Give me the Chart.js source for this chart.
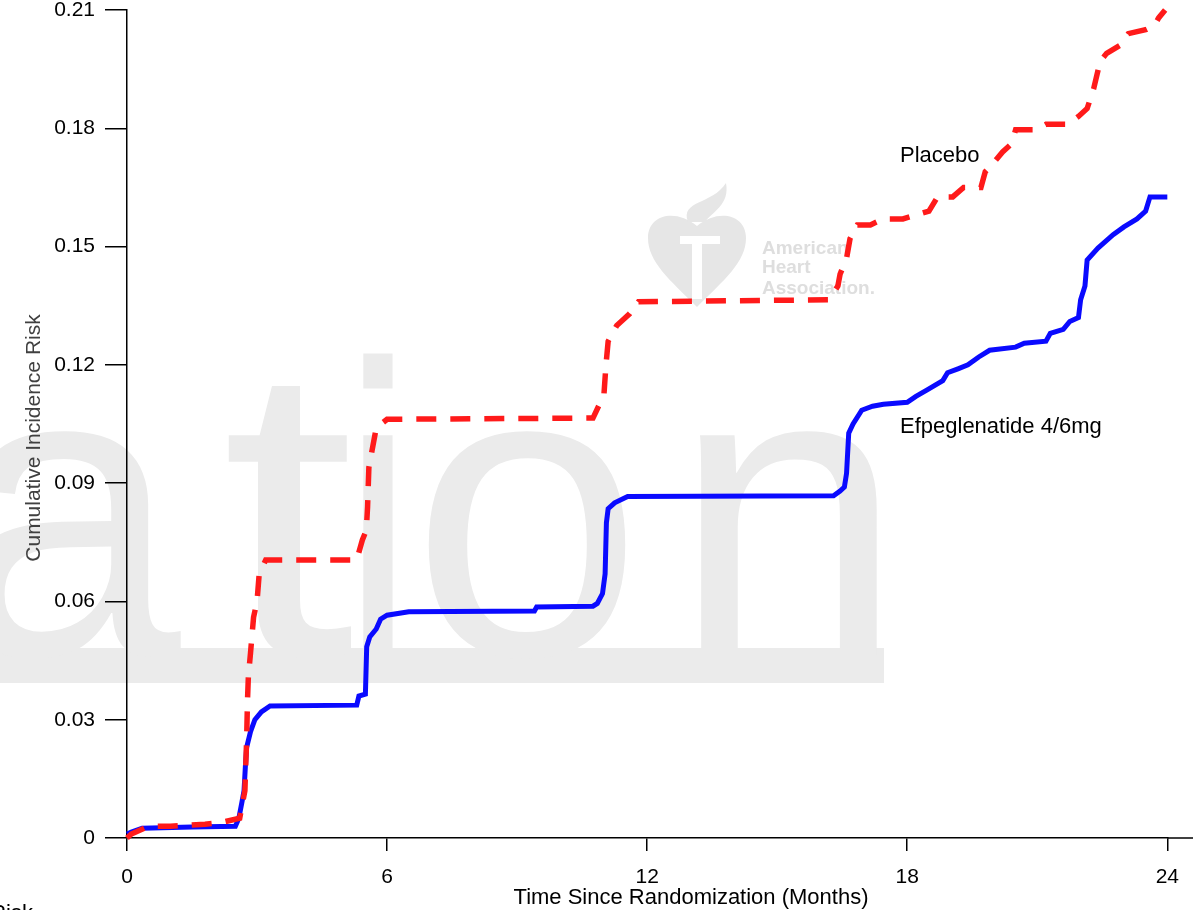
<!DOCTYPE html>
<html>
<head>
<meta charset="utf-8">
<script src="https://cdn.jsdelivr.net/npm/chart.js"></script>
<style>
  html, body { margin: 0; padding: 0; background: #fff; }
  canvas { display: block; }
</style>
</head>
<body>
<canvas id="chartIncidencia" width="1193" height="910"></canvas>
<script>
// curve values (months, cumulative risk)
const monthsPlacebo = [0, 0.1, 0.5, 1.0, 1.8, 2.2, 2.6, 2.65, 2.72, 2.76, 2.78, 2.8, 2.85, 2.92, 3.0, 3.05, 3.2,
  5.3, 5.43, 5.52, 5.55, 5.58, 5.75, 6.0, 10.75, 10.9, 11.0, 11.05, 11.1, 11.2, 11.3, 11.4, 11.6, 11.8,
  16.2, 16.4, 16.45, 16.6, 16.68, 16.85, 17.15, 17.45, 17.9, 18.2, 18.5, 18.7, 19.05, 19.3, 19.7, 19.8, 19.97, 20.2, 20.4, 20.5, 20.98,
  21.2, 21.7, 21.95, 22.15, 22.3, 22.45, 22.6, 22.9, 23.1, 23.5, 23.7, 23.8, 23.95];
const riskPlacebo = [0, 0.001, 0.003, 0.003, 0.0035, 0.004, 0.005, 0.008, 0.012, 0.025, 0.035, 0.041, 0.047, 0.056, 0.06, 0.067, 0.0705,
  0.0705, 0.0756, 0.078, 0.084, 0.094, 0.104, 0.1062, 0.1065, 0.110, 0.112, 0.12, 0.126, 0.128, 0.13, 0.131, 0.133, 0.136,
  0.1365, 0.14, 0.143, 0.147, 0.152, 0.1555, 0.1555, 0.157, 0.157, 0.158, 0.159, 0.1626, 0.1626, 0.165, 0.165, 0.169, 0.171, 0.174, 0.176, 0.1796, 0.1796,
  0.181, 0.181, 0.183, 0.185, 0.19, 0.197, 0.199, 0.201, 0.204, 0.205, 0.206, 0.208, 0.21];

const monthsEfpeg = [0, 0.1, 0.35, 1.5, 2.5, 2.58, 2.65, 2.7, 2.73, 2.76, 2.85, 2.95, 3.1, 3.3,
  5.3, 5.35, 5.5, 5.53, 5.6, 5.75, 5.85, 6.0, 6.5, 9.4, 9.45, 10.75, 10.85, 10.97, 11.03, 11.06, 11.1, 11.25, 11.55,
  16.3, 16.45, 16.55, 16.6, 16.65, 16.75, 16.95, 17.2, 17.45, 18.0, 18.2, 18.45, 18.82, 18.93, 19.17, 19.4, 19.65, 19.9,
  20.5, 20.7, 21.2, 21.3, 21.6, 21.75, 21.95, 22.0, 22.1, 22.15, 22.4, 22.75, 23.0, 23.3, 23.5, 23.6, 24.0];
const riskEfpeg = [0.001, 0.0015, 0.0025, 0.0028, 0.003, 0.005, 0.009, 0.012, 0.018, 0.023, 0.027, 0.03, 0.032, 0.0335,
  0.0337, 0.036, 0.0365, 0.0485, 0.051, 0.053, 0.0555, 0.0565, 0.0574, 0.0576, 0.0586, 0.0588, 0.0595, 0.062, 0.067, 0.08, 0.0835, 0.085, 0.0866,
  0.0868, 0.088, 0.089, 0.0925, 0.1027, 0.105, 0.1085, 0.1095, 0.110, 0.1105, 0.112, 0.1136, 0.116, 0.118, 0.119, 0.12, 0.122, 0.1237,
  0.1245, 0.1255, 0.126, 0.128, 0.129, 0.131, 0.132, 0.1365, 0.14, 0.1466, 0.1496, 0.153, 0.155, 0.157, 0.159, 0.1626, 0.1626];

const xTicks = [0, 6, 12, 18, 24];
const yTicks = [0, 0.03, 0.06, 0.09, 0.12, 0.15, 0.18, 0.21];
const seriesNames = ['Placebo', 'Efpeglenatide 4/6mg'];
const xTitle = 'Time Since Randomization (Months)';
const yTitle = 'Cumulative Incidence Risk';

const toPoints = (xs, ys) => xs.map((x, i) => ({ x: x, y: ys[i] }));

// grey watermark behind the plot
const watermark = {
    id: 'watermark',
    beforeDraw(chart) {
        const c = chart.ctx;
        c.save();
        c.fillStyle = '#ebebeb';
        c.fillRect(0, 648, 884, 35);
        c.font = '416px "Liberation Sans", Arial, sans-serif';
        c.textAlign = 'center';
        c.textBaseline = 'alphabetic';
        const letters = ['a', 't', 'i', 'o', 'n'];
        const centers = [65, 288, 378, 527, 788];
        const stretch = [1.0, 1.15, 0.8, 1.0, 1.0];
        letters.forEach((l, i) => {
            c.save();
            c.translate(centers[i], 655);
            c.scale(stretch[i], 1);
            c.fillText(l, 0, 0);
            c.restore();
        });
        // AHA logo
        c.fillStyle = '#e6e6e6';
        c.beginPath();
        c.moveTo(697, 307);
        c.bezierCurveTo(670, 280, 648, 262, 648, 238);
        c.bezierCurveTo(648, 215, 675, 208, 697, 226);
        c.bezierCurveTo(719, 208, 746, 215, 746, 238);
        c.bezierCurveTo(746, 262, 724, 280, 697, 307);
        c.fill();
        c.beginPath();
        c.moveTo(688, 222);
        c.bezierCurveTo(680, 200, 712, 205, 726, 183);
        c.bezierCurveTo(730, 205, 712, 212, 705, 222);
        c.fill();
        c.fillStyle = '#ffffff';
        c.fillRect(680, 236, 40, 8);
        c.fillRect(692, 244, 10, 55);
        c.fillStyle = '#dedede';
        c.font = 'bold 19px "Liberation Sans", Arial, sans-serif';
        c.textAlign = 'left';
        c.fillText('American', 762, 254);
        c.fillText('Heart', 762, 273);
        c.fillText('Association.', 762, 294);
        c.restore();
    }
};

// titles, curve labels, axis extension
const texts = {
    id: 'texts',
    afterDraw(chart) {
        const c = chart.ctx;
        const area = chart.chartArea;
        c.save();
        c.strokeStyle = '#000';
        c.lineWidth = 1.5;
        c.beginPath();
        c.moveTo(area.right, area.bottom);
        c.lineTo(chart.width, area.bottom);
        c.stroke();

        c.fillStyle = '#000';
        c.font = '22px "Liberation Sans", Arial, sans-serif';
        c.textBaseline = 'alphabetic';
        c.textAlign = 'left';
        c.fillText(seriesNames[0], 900, 162);
        c.fillText(seriesNames[1], 900, 433);

        c.textAlign = 'center';
        c.fillText(xTitle, 691, 904);
        c.textAlign = 'right';
        c.fillText('Risk', 33, 920);

        c.fillStyle = '#404040';
        c.font = '21px "Liberation Sans", Arial, sans-serif';
        c.translate(40, 438);
        c.rotate(-Math.PI / 2);
        c.textAlign = 'center';
        c.fillText(yTitle, 0, 0);
        c.restore();
    }
};

const ctx = document.getElementById('chartIncidencia');
new Chart(ctx, {
    type: 'line',
    data: {
        datasets: [{
            label: seriesNames[0],
            data: toPoints(monthsPlacebo, riskPlacebo),
            borderColor: '#ff1a1a',
            borderWidth: 5.5,
            borderDash: [20, 14],
            pointRadius: 0,
            tension: 0,
            clip: 6
        }, {
            label: seriesNames[1],
            data: toPoints(monthsEfpeg, riskEfpeg),
            borderColor: '#0a0aff',
            borderWidth: 5,
            pointRadius: 0,
            tension: 0,
            clip: 6
        }]
    },
    options: {
        responsive: false,
        animation: false,
        devicePixelRatio: 1,
        layout: { padding: { top: 10, right: 25, left: 0, bottom: 0 } },
        plugins: {
            legend: { display: false },
            tooltip: { enabled: false }
        },
        scales: {
            x: {
                type: 'linear',
                min: 0,
                max: 24,
                afterFit: (scale) => { scale.height = 72; },
                afterBuildTicks: (scale) => { scale.ticks = xTicks.map(v => ({ value: v })); },
                grid: { drawOnChartArea: false, tickLength: 13, color: '#000', lineWidth: 1.5 },
                border: { color: '#000', width: 1.5 },
                ticks: { color: '#000', padding: 14, maxRotation: 0, font: { family: '"Liberation Sans", Arial, sans-serif', size: 21 } }
            },
            y: {
                min: 0,
                max: 0.21,
                afterFit: (scale) => {
                    scale.width = 127;
                    scale.paddingTop = 0;
                    scale.paddingBottom = 0;
                },
                afterBuildTicks: (scale) => { scale.ticks = yTicks.map(v => ({ value: v })); },
                grid: { drawOnChartArea: false, tickLength: 22, color: '#000', lineWidth: 1.5 },
                border: { color: '#000', width: 1.5 },
                ticks: {
                    color: '#000',
                    padding: 10,
                    font: { family: '"Liberation Sans", Arial, sans-serif', size: 21 },
                    callback: (v) => (v === 0 ? '0' : v.toFixed(2))
                }
            }
        }
    },
    plugins: [watermark, texts]
});
</script>
</body>
</html>
